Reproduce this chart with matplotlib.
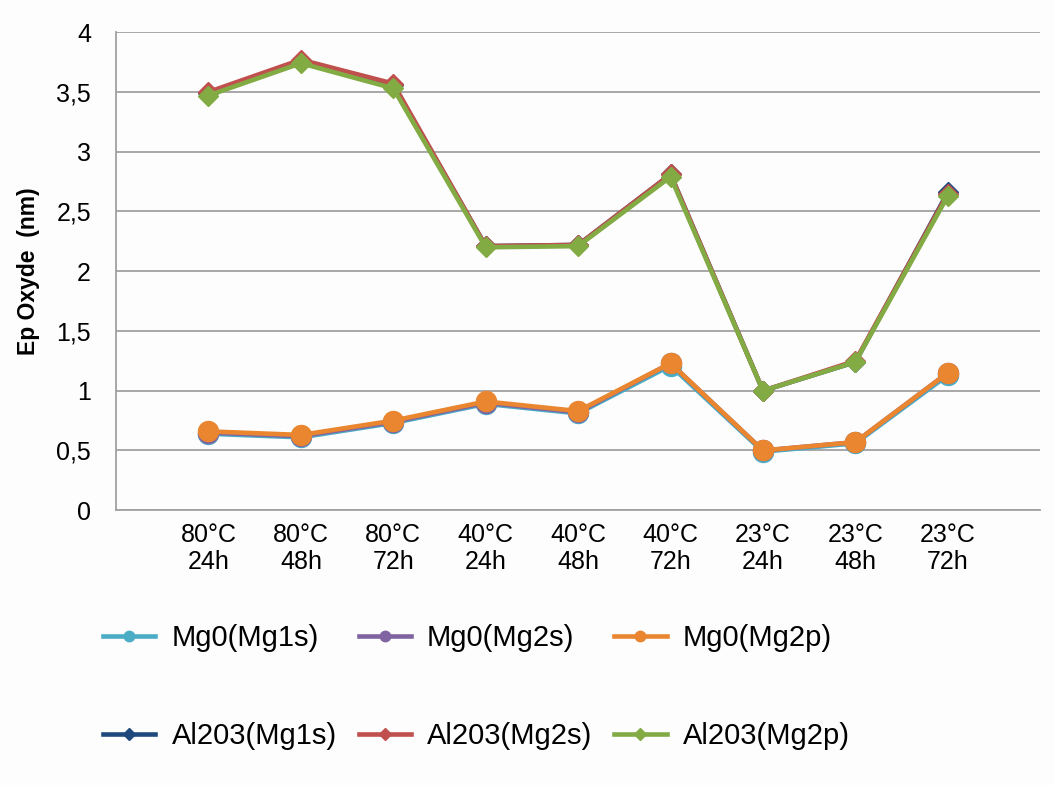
import matplotlib.pyplot as plt

plt.rcParams["font.family"] = ["Liberation Sans", "DejaVu Sans"]

categories = ["80°C\n24h", "80°C\n48h", "80°C\n72h",
              "40°C\n24h", "40°C\n48h", "40°C\n72h",
              "23°C\n24h", "23°C\n48h", "23°C\n72h"]
y_ticks = [0, 0.5, 1, 1.5, 2, 2.5, 3, 3.5, 4]
y_tick_labels = ["0", "0,5", "1", "1,5", "2", "2,5", "3", "3,5", "4"]

mgo_mg1s = [0.64, 0.61, 0.73, 0.89, 0.81, 1.21, 0.49, 0.56, 1.13]
mgo_mg2s = [0.65, 0.62, 0.74, 0.90, 0.82, 1.23, 0.50, 0.57, 1.15]
mgo_mg2p = [0.66, 0.63, 0.75, 0.91, 0.83, 1.23, 0.50, 0.57, 1.15]
al2o3_mg1s = [3.49, 3.76, 3.56, 2.21, 2.22, 2.81, 1.00, 1.24, 2.66]
al2o3_mg2s = [3.50, 3.77, 3.57, 2.21, 2.22, 2.81, 1.00, 1.25, 2.65]
al2o3_mg2p = [3.47, 3.74, 3.53, 2.20, 2.21, 2.79, 1.00, 1.24, 2.63]

series = [
    ("Mg0(Mg1s)", mgo_mg1s, "#4BACC6", "o"),
    ("Mg0(Mg2s)", mgo_mg2s, "#8064A2", "o"),
    ("Mg0(Mg2p)", mgo_mg2p, "#E9862F", "o"),
    ("Al203(Mg1s)", al2o3_mg1s, "#1F497D", "D"),
    ("Al203(Mg2s)", al2o3_mg2s, "#C0504D", "D"),
    ("Al203(Mg2p)", al2o3_mg2p, "#83AB44", "D"),
]

fig = plt.figure(figsize=(10.55, 7.85), dpi=100)
fig.patch.set_facecolor("#FDFDFD")
ax = fig.add_axes([0.110, 0.350, 0.876, 0.609])
ax.set_facecolor("#FDFDFD")

x = list(range(1, len(categories) + 1))
handles = []
for label, values, color, marker in series:
    ms = 14.4 if marker == "o" else 10.5
    (h,) = ax.plot(x, values, color=color, linewidth=3.3, marker=marker,
                   markersize=ms, label=label, zorder=3)
    handles.append(h)

ax.set_xlim(0, 10)
ax.set_ylim(0, 4)
ax.set_xticks(x)
ax.set_xticklabels(categories, fontsize=18, linespacing=1.15)
ax.set_yticks(y_ticks)
ax.set_yticklabels(y_tick_labels, fontsize=18)
ax.tick_params(axis="both", length=0)
ax.tick_params(axis="y", pad=18)
ax.tick_params(axis="x", pad=9)
ax.grid(axis="y", color="#A0A0A0", linewidth=1.3)
ax.set_axisbelow(True)
for side in ("top", "right"):
    ax.spines[side].set_visible(False)
for side in ("left", "bottom"):
    ax.spines[side].set_color("#A0A0A0")
    ax.spines[side].set_linewidth(1.3)

ax.set_ylabel("Ep Oxyde  (nm)", fontsize=16.5, fontweight="bold")
ax.yaxis.set_label_coords(-0.082, 0.5)

# legend fills column by column, so interleave to get the row order
order = [0, 3, 1, 4, 2, 5]
leg = fig.legend([handles[i] for i in order], [series[i][0] for i in order],
                 loc="upper left", bbox_to_anchor=(0.0976, 0.205), ncol=3,
                 frameon=False, fontsize=21, handlelength=1.8,
                 handletextpad=0.55, columnspacing=0.75, labelspacing=2.4,
                 borderpad=0, borderaxespad=0)
for line in leg.get_lines():
    line.set_markersize(7.5 if line.get_marker() == "o" else 6.5)

fig.savefig("out.png", dpi=100, facecolor=fig.get_facecolor())
